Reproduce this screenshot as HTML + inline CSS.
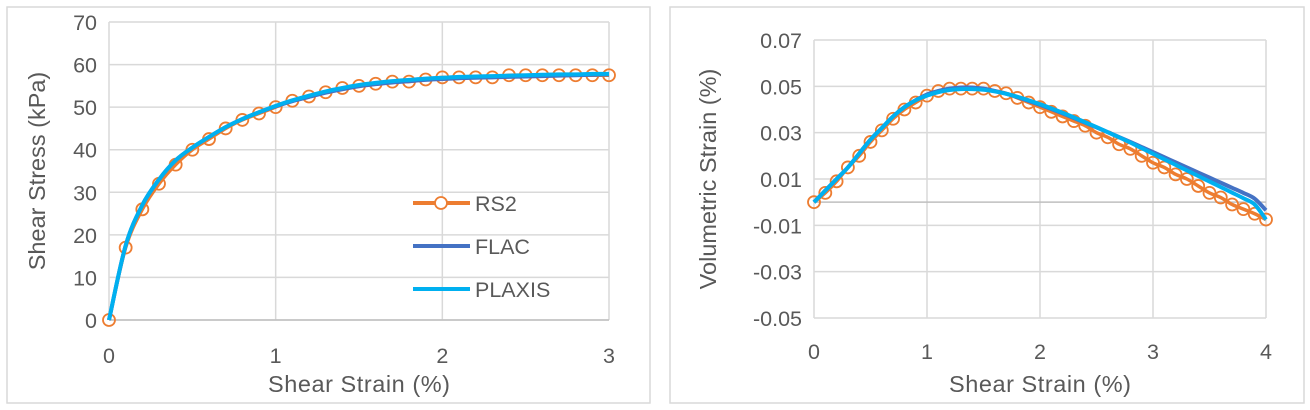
<!DOCTYPE html>
<html><head><meta charset="utf-8">
<style>
body{margin:0;background:#fff;width:1310px;height:410px;overflow:hidden;font-family:"Liberation Sans",sans-serif}
svg{position:absolute;left:0;top:0}
text{fill:#595959;font-family:"Liberation Sans",sans-serif}
</style></head>
<body>
<svg id="c" width="1310" height="410"></svg>
<script>
const leftX = [0,0.1,0.2,0.3,0.4,0.5,0.6,0.7,0.8,0.9,1.0,1.1,1.2,1.3,1.4,1.5,1.6,1.7,1.8,1.9,2.0,2.1,2.2,2.3,2.4,2.5,2.6,2.7,2.8,2.9,3.0];
const leftRS2 = [0,17,26,32,36.5,40,42.5,45,47,48.5,50,51.5,52.5,53.5,54.5,55,55.5,56,56,56.5,57,57,57,57,57.5,57.5,57.5,57.5,57.5,57.5,57.5];
const leftFLAC = [0,17.5,27,33,37.5,40.5,43,45.3,47.2,48.8,50.2,51.4,52.4,53.4,54.2,54.9,55.4,55.8,56.1,56.4,56.6,56.8,56.9,57,57.1,57.2,57.3,57.4,57.5,57.6,57.7];
const leftPLAXIS = [0,17.5,27,33,37.5,40.5,43,45.3,47.2,48.8,50.3,51.6,52.7,53.7,54.5,55.2,55.7,56.1,56.4,56.7,56.9,57.1,57.2,57.3,57.4,57.5,57.6,57.7,57.7,57.8,57.8];
const leftYTicks = [0,10,20,30,40,50,60,70];
const leftXTicks = [0,1,2,3];
const rightX = Array.from({length:41},(_,i)=>+(i*0.1).toFixed(1));
const rightRS2 = [0,0.004,0.009,0.015,0.020,0.026,0.031,0.036,0.040,0.043,0.046,0.048,0.049,0.049,0.049,0.049,0.048,0.047,0.045,0.043,0.041,0.039,0.037,0.035,0.033,0.030,0.028,0.025,0.023,0.020,0.017,0.015,0.012,0.010,0.007,0.004,0.002,-0.001,-0.003,-0.005,-0.0075];
const rightFLAC = [0,0.005,0.010,0.015,0.021,0.027,0.032,0.037,0.041,0.044,0.0465,0.048,0.049,0.0495,0.0495,0.049,0.048,0.0468,0.0453,0.0437,0.042,0.0402,0.0383,0.0363,0.0343,0.0323,0.0302,0.0281,0.026,0.0238,0.0216,0.0194,0.0172,0.015,0.0128,0.0106,0.0084,0.0062,0.004,0.0015,-0.0035];
const rightPLAXIS = [0,0.005,0.010,0.015,0.021,0.027,0.032,0.037,0.041,0.044,0.046,0.0475,0.0484,0.0488,0.0488,0.0485,0.0478,0.0468,0.0455,0.044,0.0423,0.0405,0.0386,0.0366,0.0345,0.0324,0.0302,0.028,0.0257,0.0233,0.0209,0.0185,0.0161,0.0137,0.0113,0.0089,0.0065,0.0041,0.0017,-0.0010,-0.0075];
const rightYTicks = [0.07,0.05,0.03,0.01,-0.01,-0.03,-0.05];
const rightXTicks = [0,1,2,3,4];

const NS="http://www.w3.org/2000/svg", svg=document.getElementById('c');
function el(t,a,p){const e=document.createElementNS(NS,t);for(const k in a)e.setAttribute(k,a[k]);(p||svg).appendChild(e);return e;}
function smooth(pts){let d=`M${pts[0][0]},${pts[0][1]}`;for(let i=0;i<pts.length-1;i++){const p0=pts[i-1]||pts[i],p1=pts[i],p2=pts[i+1],p3=pts[i+2]||p2;
d+=` C${p1[0]+(p2[0]-p0[0])/6},${p1[1]+(p2[1]-p0[1])/6} ${p2[0]-(p3[0]-p1[0])/6},${p2[1]-(p3[1]-p1[1])/6} ${p2[0]},${p2[1]}`;}return d;}

function chart(o){
  const g=el('g',{});
  
  
  const fr=el('rect',{x:o.frame[0],y:o.frame[1],width:o.frame[2],height:o.frame[3],fill:'#fff',stroke:'#d9d9d9','stroke-width':1.5},g);
  
  const sx=v=>o.x0+(v-o.xmin)/(o.xmax-o.xmin)*(o.x1-o.x0);
  const sy=v=>o.y0+(v-o.ymin)/(o.ymax-o.ymin)*(o.y1-o.y0);
  o.yt.forEach(v=>{const l=el('line',{x1:o.x0,x2:o.x1,y1:sy(v),y2:sy(v),stroke:'#d9d9d9','stroke-width':1.5},g);
    
    const t=el('text',{x:o.x0-12,y:sy(v)+8,'text-anchor':'end','font-size':21.5},g);t.textContent=o.yfmt(v);
    });
  o.xt.forEach(v=>{const l=el('line',{x1:sx(v),x2:sx(v),y1:o.y1,y2:o.y0,stroke:'#d9d9d9','stroke-width':1.5},g);
    
    const t=el('text',{x:sx(v),y:o.xlabY,'text-anchor':'middle','font-size':21.5},g);t.textContent=v;
    });
  const ax=el('line',{x1:o.x0,x2:o.x1,y1:sy(0),y2:sy(0),stroke:'#bfbfbf','stroke-width':1.5},g);
  
  const xt=el('text',{x:(o.x0+o.x1)/2,y:o.xtitleY,'text-anchor':'middle','font-size':23.5,'textLength':182},g);xt.textContent='Shear Strain (%)';
  
  const yt=el('text',{x:0,y:0,'text-anchor':'middle','font-size':23.5,transform:`translate(${o.ytitleX},${(o.y0+o.y1)/2}) rotate(-90)`},g);yt.textContent=o.ytitle;
  
  const rsPts=o.xs.map((x,i)=>[sx(x),sy(o.rs2[i])]);
  const rl=el('path',{d:smooth(rsPts),fill:'none',stroke:'#ED7D31','stroke-width':3.5},g);
  
  rsPts.forEach(p=>{const c=el('circle',{cx:p[0],cy:p[1],r:6,fill:'#fff','fill-opacity':0,stroke:'#ED7D31','stroke-width':1.8},g);
    });
  const fl=el('path',{d:smooth(o.xs.map((x,i)=>[sx(x),sy(o.flac[i])])),fill:'none',stroke:'#4472C4','stroke-width':4},g);
  
  const pl=el('path',{d:smooth(o.xs.map((x,i)=>[sx(x),sy(o.plaxis[i])])),fill:'none',stroke:'#00B0F0','stroke-width':4},g);
  
  return g;
}
const L=chart({name:'shear-stress-chart',frame:[7,7,643,396],x0:109,x1:609,y0:320,y1:22,xmin:0,xmax:3,ymin:0,ymax:70,
  xs:leftX,rs2:leftRS2,flac:leftFLAC,plaxis:leftPLAXIS,yt:leftYTicks,xt:leftXTicks,yfmt:v=>v,xlabY:363,xtitleY:392,ytitleX:45,ytitle:'Shear Stress (kPa)'});
chart({name:'volumetric-strain-chart',frame:[670,7,634,396],x0:814,x1:1266,y0:318,y1:40,xmin:0,xmax:4,ymin:-0.05,ymax:0.07,
  xs:rightX,rs2:rightRS2,flac:rightFLAC,plaxis:rightPLAXIS,yt:rightYTicks,xt:rightXTicks,yfmt:v=>v.toFixed(2),xlabY:359,xtitleY:392,ytitleX:716,ytitle:'Volumetric Strain (%)'});
const leg=[['RS2','#ED7D31',203,true],['FLAC','#4472C4',246,false],['PLAXIS','#00B0F0',289,false]];
leg.forEach(([n,c,y,m])=>{
  const g=el('g',{},L);
  
  
  el('line',{x1:413,x2:470,y1:y,y2:y,stroke:c,'stroke-width':4},g);
  if(m) el('circle',{cx:441,cy:y,r:6,fill:'#fff',stroke:c,'stroke-width':1.8},g);
  const t=el('text',{x:475,y:y+8,'font-size':21.5},g);t.textContent=n;
});
</script>
</body></html>
